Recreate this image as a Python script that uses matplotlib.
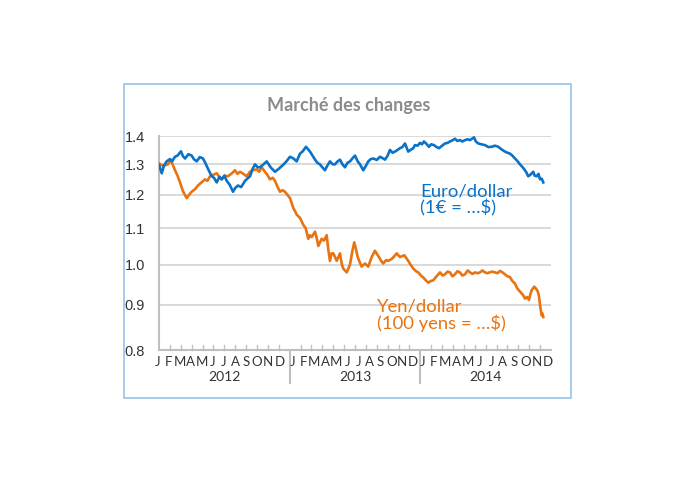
import matplotlib
matplotlib.use("Agg")
import matplotlib.pyplot as plt
from matplotlib.patches import Rectangle
import matplotlib.transforms as mtransforms
import numpy as np

# ---- data: (time in months since Jan 2012, value) ----
eur_points = [
    (0.00, 1.298), (0.12, 1.285), (0.25, 1.270), (0.45, 1.295), (0.70, 1.310), (1.00, 1.318),
    (1.20, 1.310), (1.47, 1.326), (1.70, 1.330), (2.02, 1.345), (2.20, 1.328), (2.39, 1.320),
    (2.70, 1.335), (3.00, 1.330), (3.20, 1.318), (3.46, 1.310), (3.75, 1.325), (4.04, 1.320),
    (4.25, 1.305), (4.50, 1.285), (4.84, 1.260), (5.05, 1.255), (5.30, 1.240), (5.55, 1.258),
    (5.76, 1.250), (6.00, 1.262), (6.22, 1.245), (6.50, 1.232), (6.80, 1.210), (7.00, 1.222),
    (7.25, 1.230), (7.55, 1.225), (7.90, 1.245), (8.10, 1.252), (8.36, 1.260), (8.60, 1.285),
    (8.82, 1.300), (9.05, 1.290), (9.27, 1.290), (9.60, 1.300), (9.89, 1.310), (10.25, 1.290),
    (10.65, 1.275), (11.00, 1.285), (11.39, 1.298), (11.70, 1.310), (12.03, 1.326), (12.35, 1.320),
    (12.64, 1.310), (12.95, 1.337), (13.20, 1.345), (13.50, 1.361), (13.87, 1.344), (14.10, 1.330),
    (14.33, 1.316), (14.55, 1.305), (14.78, 1.300), (15.00, 1.290), (15.24, 1.280), (15.45, 1.295),
    (15.70, 1.310), (15.95, 1.300), (16.16, 1.300), (16.40, 1.310), (16.62, 1.316), (16.85, 1.300),
    (17.08, 1.290), (17.30, 1.305), (17.54, 1.310), (17.80, 1.322), (18.00, 1.330), (18.25, 1.310),
    (18.46, 1.300), (18.76, 1.280), (19.00, 1.295), (19.22, 1.310), (19.45, 1.318), (19.68, 1.320),
    (20.00, 1.315), (20.29, 1.326), (20.50, 1.322), (20.75, 1.316), (21.00, 1.330), (21.21, 1.350),
    (21.45, 1.340), (21.67, 1.344), (21.90, 1.350), (22.13, 1.356), (22.35, 1.360), (22.59, 1.373),
    (22.89, 1.344), (23.10, 1.350), (23.35, 1.356), (23.50, 1.367), (23.75, 1.365), (23.97, 1.375),
    (24.15, 1.370), (24.33, 1.380), (24.55, 1.372), (24.79, 1.361), (25.00, 1.370), (25.25, 1.367),
    (25.50, 1.360), (25.71, 1.356), (26.00, 1.365), (26.26, 1.373), (26.50, 1.375), (26.72, 1.380),
    (26.95, 1.384), (27.18, 1.390), (27.40, 1.382), (27.64, 1.385), (27.85, 1.380), (28.10, 1.385),
    (28.35, 1.388), (28.56, 1.385), (28.75, 1.390), (28.93, 1.395), (29.10, 1.380), (29.32, 1.373),
    (29.60, 1.370), (29.94, 1.367), (30.25, 1.360), (30.55, 1.361), (30.85, 1.365), (31.16, 1.361),
    (31.45, 1.352), (31.77, 1.344), (32.00, 1.340), (32.23, 1.337), (32.45, 1.330), (32.69, 1.320),
    (32.90, 1.312), (33.15, 1.300), (33.40, 1.290), (33.61, 1.280), (33.75, 1.272), (33.91, 1.260),
    (34.10, 1.265), (34.37, 1.275), (34.50, 1.262), (34.68, 1.260), (34.85, 1.268), (34.99, 1.250),
    (35.15, 1.252), (35.29, 1.240),
]
jpy_points = [
    (0.00, 1.303), (0.37, 1.295), (0.83, 1.300), (1.07, 1.315), (1.25, 1.300), (1.47, 1.280),
    (1.70, 1.262), (1.93, 1.240), (2.20, 1.212), (2.54, 1.190), (2.75, 1.200), (3.00, 1.210),
    (3.30, 1.218), (3.58, 1.230), (3.90, 1.240), (4.22, 1.250), (4.45, 1.245), (4.68, 1.260),
    (5.00, 1.265), (5.30, 1.270), (5.55, 1.258), (5.76, 1.250), (6.05, 1.262), (6.34, 1.260),
    (6.70, 1.270), (6.98, 1.280), (7.20, 1.268), (7.44, 1.275), (7.75, 1.268), (8.05, 1.260),
    (8.35, 1.275), (8.63, 1.280), (8.97, 1.283), (9.20, 1.275), (9.43, 1.290), (9.73, 1.275),
    (9.95, 1.265), (10.19, 1.250), (10.45, 1.255), (10.65, 1.245), (10.90, 1.225), (11.11, 1.210),
    (11.35, 1.215), (11.57, 1.210), (11.80, 1.200), (12.03, 1.190), (12.33, 1.160), (12.50, 1.150),
    (12.64, 1.140), (12.95, 1.130), (13.10, 1.120), (13.25, 1.110), (13.47, 1.100), (13.71, 1.070),
    (13.85, 1.080), (14.02, 1.075), (14.33, 1.090), (14.50, 1.070), (14.63, 1.050), (14.94, 1.070),
    (15.15, 1.065), (15.40, 1.080), (15.55, 1.040), (15.70, 1.010), (15.85, 1.030), (16.01, 1.030),
    (16.32, 1.010), (16.62, 1.030), (16.80, 1.000), (16.92, 0.990), (17.24, 0.980), (17.54, 1.000),
    (17.75, 1.035), (17.93, 1.060), (18.10, 1.040), (18.25, 1.020), (18.45, 1.005), (18.61, 0.995),
    (18.92, 1.003), (19.22, 0.995), (19.53, 1.020), (19.83, 1.037), (20.20, 1.020), (20.40, 1.010),
    (20.60, 1.003), (20.85, 1.012), (21.06, 1.010), (21.37, 1.015), (21.60, 1.022), (21.83, 1.030),
    (22.13, 1.020), (22.53, 1.025), (22.70, 1.018), (22.89, 1.010), (23.10, 1.000), (23.35, 0.990),
    (23.60, 0.983), (23.81, 0.980), (24.05, 0.972), (24.27, 0.967), (24.50, 0.960), (24.73, 0.954),
    (24.95, 0.958), (25.19, 0.960), (25.50, 0.970), (25.80, 0.980), (26.05, 0.972), (26.26, 0.975),
    (26.50, 0.982), (26.72, 0.980), (26.95, 0.970), (27.18, 0.975), (27.40, 0.983), (27.64, 0.980),
    (27.85, 0.972), (28.10, 0.975), (28.35, 0.985), (28.56, 0.980), (28.80, 0.976), (29.02, 0.980),
    (29.25, 0.978), (29.48, 0.980), (29.70, 0.985), (29.94, 0.980), (30.15, 0.978), (30.39, 0.980),
    (30.60, 0.982), (30.85, 0.980), (31.10, 0.978), (31.31, 0.984), (31.55, 0.980), (31.77, 0.975),
    (32.00, 0.970), (32.23, 0.968), (32.45, 0.958), (32.69, 0.952), (32.90, 0.940), (33.15, 0.932),
    (33.40, 0.925), (33.61, 0.915), (33.80, 0.919), (33.98, 0.912), (34.10, 0.925), (34.22, 0.935),
    (34.46, 0.944), (34.60, 0.940), (34.78, 0.933), (34.90, 0.920), (34.99, 0.900), (35.08, 0.885),
    (35.14, 0.876), (35.22, 0.880), (35.29, 0.872),
]
eur_t = [p[0] for p in eur_points]
eur_v = [p[1] for p in eur_points]
jpy_t = [p[0] for p in jpy_points]
jpy_v = [p[1] for p in jpy_points]

month_labels = ["J", "F", "M", "A", "M", "J", "J", "A", "S", "O", "N", "D"]
years = ["2012", "2013", "2014"]
y_ticks = [0.8, 0.9, 1.0, 1.1, 1.2, 1.3, 1.4]
y_ticklabels = ["0.8", "0.9", "1.0", "1.1", "1.2", "1.3", "1.4"]

title = "Marché des changes"
eur_label = "Euro/dollar\n(1€ = …$)"
jpy_label = "Yen/dollar\n(100 yens = …$)"

BLUE = "#0A72C9"
ORANGE = "#E9730F"
GRID = "#D9D9D9"
AXIS = "#BFBFBF"
TXT = "#333333"

W, H = 695, 483
fig = plt.figure(figsize=(W / 100, H / 100), dpi=100)
fig.patch.set_facecolor("white")

def fx(px):
    return px / W

def fy(py):
    return 1 - py / H

# frame box
fig.patches.append(Rectangle((fx(124), fy(398)), fx(571) - fx(124), fy(84) - fy(398),
                             transform=fig.transFigure, fill=False, edgecolor="#9DC8EC",
                             linewidth=1.3))

ax = fig.add_axes([fx(159), fy(350), fx(551) - fx(159), fy(136) - fy(350)])
ax.set_yscale("log")
ax.set_ylim(0.8, 1.4)
ax.set_xlim(0, 36)

for v in y_ticks[1:]:
    ax.axhline(v, color=GRID, lw=1.4, zorder=1)

ax.plot(jpy_t, jpy_v, color=ORANGE, lw=1.9, zorder=3, solid_joinstyle="round")
ax.plot(eur_t, eur_v, color=BLUE, lw=1.9, zorder=4, solid_joinstyle="round")

ax.set_yticks(y_ticks)
ax.set_yticklabels(y_ticklabels, fontfamily="Liberation Sans", fontsize=10.5, color=TXT)
ax.yaxis.set_minor_locator(matplotlib.ticker.NullLocator())
ax.tick_params(axis="y", length=0, pad=10)

ax.set_xticks([])
for s in ["top", "right"]:
    ax.spines[s].set_visible(False)
ax.spines["left"].set_color(AXIS)
ax.spines["left"].set_linewidth(1.5)
ax.spines["bottom"].set_color(AXIS)
ax.spines["bottom"].set_linewidth(1.5)

trans = mtransforms.blended_transform_factory(ax.transData, ax.transAxes)
px_ax = 1.0 / (350 - 136)
# minor month ticks (inside)
for m in range(1, 36):
    if m % 12 == 0:
        continue
    ax.plot([m, m], [0, 5 * px_ax], color=AXIS, lw=1.0, transform=trans, clip_on=False)
# year separators
for m in (12, 24):
    ax.plot([m, m], [0, -33 * px_ax], color=AXIS, lw=1.5, transform=trans, clip_on=False)

# month label spans per year (first and last label positions, in months)
label_spans = [(-0.15, 11.05), (12.25, 23.35), (24.2, 35.75)]
for yi, yr in enumerate(years):
    pos = np.linspace(label_spans[yi][0], label_spans[yi][1], 12)
    for p, lab in zip(pos, month_labels):
        ax.text(p, -12 * px_ax, lab, transform=trans,
                ha="center", va="center", fontsize=9.5, color=TXT, fontfamily="Lato")
    ax.text(12 * yi + 6, -27 * px_ax, yr, transform=trans, ha="center", va="center",
            fontsize=10, color=TXT, fontfamily="Lato")

fig.text(fx(349), fy(105), title, ha="center", va="center", fontsize=13,
         fontweight="bold", color="#8C8C8C", fontfamily="Lato")

fig.text(fx(420), fy(200), eur_label, ha="left", va="center", fontsize=13.3,
         color=BLUE, fontfamily="Lato", linespacing=1.0)
fig.text(fx(377), fy(315), jpy_label, ha="left", va="center", fontsize=13.3,
         color=ORANGE, fontfamily="Lato", linespacing=1.0)

fig.savefig("out.png", dpi=100, facecolor="white")
